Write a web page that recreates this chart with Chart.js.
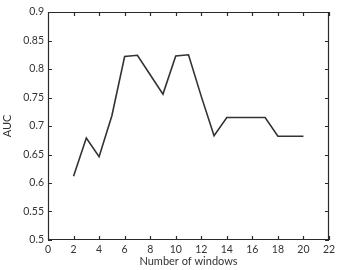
<!DOCTYPE html>
<html><head><meta charset="utf-8">
<script src="https://cdn.jsdelivr.net/npm/chart.js"></script>
<style>html,body{margin:0;padding:0;background:#fff}#wrap{width:346px;height:270px}</style>
</head><body><div id="wrap"><canvas id="c" width="346" height="270"></canvas></div>
<script>
const windows = [2,3,4,5,6,7,8,9,10,11,12,13,14,15,16,17,18,19,20];
const auc = [0.612,0.679,0.646,0.718,0.822,0.824,0.79,0.756,0.823,0.825,0.752,0.683,0.715,0.715,0.715,0.715,0.682,0.682,0.682];
const xTicks = [0,2,4,6,8,10,12,14,16,18,20,22];
const yTicks = [0.5,0.55,0.6,0.65,0.7,0.75,0.8,0.85,0.9];

const FONT = {family: 'Lato', size: 10.5};
const TFONT = {family: 'Lato', size: 11};
const TXT = '#333';
const AX = '#2a2a2a';

const boxTicks = {
  id: 'boxTicks',
  afterDraw(chart) {
    const {ctx, chartArea: a, scales} = chart;
    ctx.save();
    ctx.strokeStyle = AX;
    ctx.lineWidth = 1.2;
    ctx.beginPath();
    ctx.rect(a.left + 0.5, a.top + 0.5, a.right - a.left - 1, a.bottom - a.top - 1);
    const L = 4;
    xTicks.forEach(v => {
      const px = Math.round(scales.x.getPixelForValue(v)) + 0.5;
      ctx.moveTo(px, a.bottom); ctx.lineTo(px, a.bottom - L);
      ctx.moveTo(px, a.top); ctx.lineTo(px, a.top + L);
    });
    yTicks.forEach(v => {
      const py = Math.round(scales.y.getPixelForValue(v)) + 0.5;
      ctx.moveTo(a.left, py); ctx.lineTo(a.left + L, py);
      ctx.moveTo(a.right, py); ctx.lineTo(a.right - L, py);
    });
    ctx.stroke();
    ctx.restore();
  }
};

new Chart(document.getElementById('c'), {
  type: 'line',
  data: {
    datasets: [{
      data: windows.map((w, i) => ({x: w, y: auc[i]})),
      borderColor: '#333',
      borderWidth: 1.6,
      pointRadius: 0,
      tension: 0,
      fill: false
    }]
  },
  options: {
    responsive: false,
    animation: false,
    devicePixelRatio: 1,
    layout: {padding: {left: 0, right: 17, top: 12, bottom: 0}},
    plugins: {legend: {display: false}, tooltip: {enabled: false}},
    scales: {
      x: {
        type: 'linear', min: 0, max: 22,
        afterBuildTicks: s => { s.ticks = xTicks.map(v => ({value: v})); },
        afterFit: s => { s.height = 30; },
        grid: {display: false, drawTicks: false},
        border: {display: false},
        ticks: {color: TXT, font: FONT, padding: 3, maxRotation: 0, autoSkip: false,
                callback: v => String(v)},
        title: {display: true, text: 'Number of windows', color: TXT, font: TFONT, padding: {top: 0, bottom: 2}}
      },
      y: {
        type: 'linear', min: 0.5, max: 0.9,
        afterBuildTicks: s => { s.ticks = yTicks.map(v => ({value: v})); },
        afterFit: s => { s.width = 48; },
        grid: {display: false, drawTicks: false},
        border: {display: false},
        ticks: {color: TXT, font: FONT, padding: 4, autoSkip: false,
                callback: v => String(+Number(v).toFixed(2))},
        title: {display: true, text: 'AUC', color: TXT, font: TFONT, padding: {top: 1, bottom: 0}}
      }
    }
  },
  plugins: [boxTicks]
});
</script>
</body></html>
